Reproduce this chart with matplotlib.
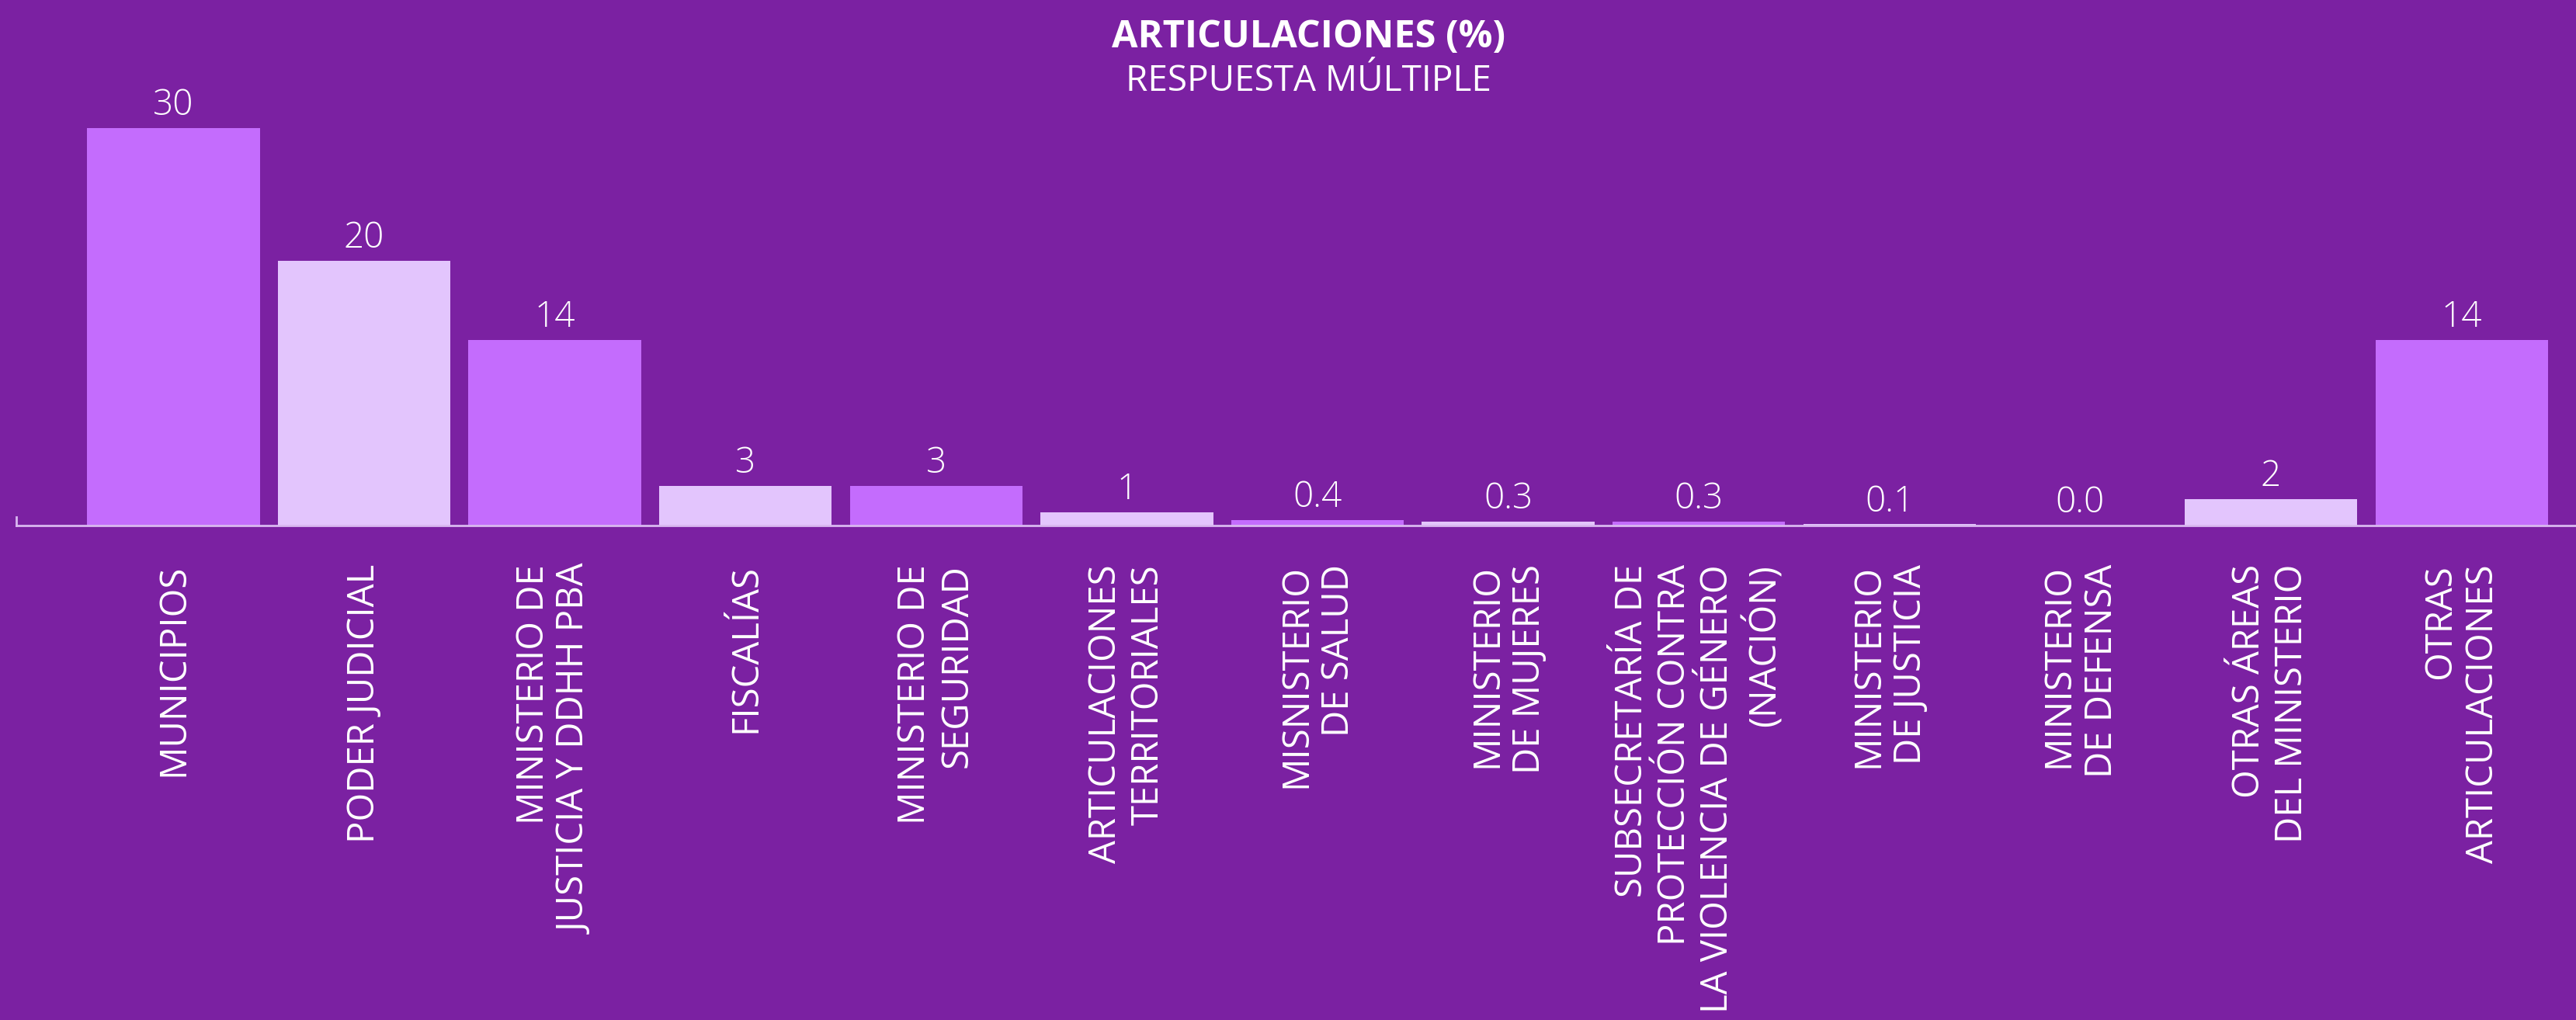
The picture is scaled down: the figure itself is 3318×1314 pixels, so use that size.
import matplotlib.pyplot as plt

# datos
categorias = [
    "MUNICIPIOS",
    "PODER JUDICIAL",
    "MINISTERIO DE\nJUSTICIA Y DDHH PBA",
    "FISCALÍAS",
    "MINISTERIO DE\nSEGURIDAD",
    "ARTICULACIONES\nTERRITORIALES",
    "MISNISTERIO\nDE SALUD",
    "MINISTERIO\nDE MUJERES",
    "SUBSECRETARÍA DE\nPROTECCIÓN CONTRA\nLA VIOLENCIA DE GÉNERO\n(NACIÓN)",
    "MINISTERIO\nDE JUSTICIA",
    "MINISTERIO\nDE DEFENSA",
    "OTRAS ÁREAS\nDEL MINISTERIO",
    "OTRAS\nARTICULACIONES",
]
valores = [30, 20, 14, 3, 3, 1, 0.4, 0.3, 0.3, 0.1, 0.0, 2, 14]

titulo = "ARTICULACIONES (%)"
subtitulo = "RESPUESTA MÚLTIPLE"

fondo = "#7b21a2"
violeta = "#c46cfd"
lila = "#e3c5fd"
eje = "#d9b8f0"

plt.rcParams['font.family'] = ['Open Sans', 'DejaVu Sans']

fig = plt.figure(figsize=(33.18, 13.14), dpi=100, facecolor=fondo)
ax = fig.add_axes([0.0064, 0.4848, 0.9936, 0.4155])
ax.set_facecolor(fondo)

colores = [violeta if i % 2 == 0 else lila for i in range(len(valores))]
x = list(range(len(valores)))
barras = ax.bar(x, valores, width=0.905, color=colores, zorder=2)

# etiquetas de valor sobre cada barra
for b, v in zip(barras, valores):
    txt = f"{v:.0f}" if v >= 1 else f"{v:.1f}"
    ax.annotate(txt, (b.get_x() + b.get_width() / 2, b.get_height()),
                xytext=(0, 12), textcoords="offset points",
                ha="center", va="baseline", fontsize=33, color="white",
                fontweight="light")

ax.set_xlim(-0.823, 12.6)
ax.set_ylim(0, 32)

ax.set_xticks(x)
ax.set_xticklabels(categorias, rotation=90, ha="center", va="top",
                   multialignment="right", fontsize=34, color="white",
                   linespacing=1.2)
ax.tick_params(axis="x", length=0, pad=36)
ax.set_yticks([])

for s in ["top", "right"]:
    ax.spines[s].set_visible(False)
ax.spines["bottom"].set_color(eje)
ax.spines["bottom"].set_linewidth(2)
ax.spines["bottom"].set_zorder(3)
ax.spines["left"].set_color(eje)
ax.spines["left"].set_linewidth(2)
ax.spines["left"].set_bounds(0, 0.65)

fig.text(0.508, 0.963, titulo, ha="center", va="center", fontsize=35,
         fontweight="bold", color="white")
fig.text(0.508, 0.920, subtitulo, ha="center", va="center", fontsize=33,
         color="white")

plt.savefig("out.png", dpi=100, facecolor=fondo)
